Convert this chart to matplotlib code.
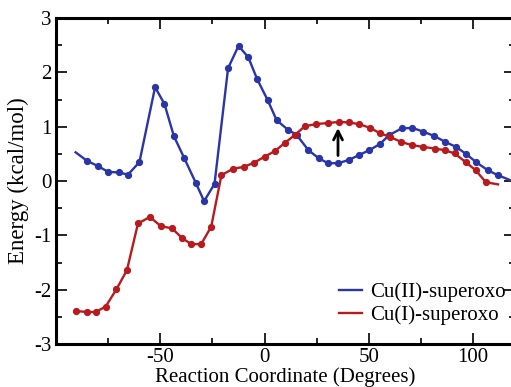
import numpy as np
import matplotlib.pyplot as plt
from matplotlib.ticker import FixedLocator

# Cu(II)-superoxo (blue)
cu2_x = [-90.6, -85, -80, -75, -70, -65.5, -60, -52.5, -48, -43.5, -38.6, -33, -29, -24,
         -17.5, -12.5, -7.8, -3.6, 1.5, 5.8, 11.1, 15.4, 21, 26, 30.4, 35.3, 40.4, 45.3,
         50.2, 55.2, 59.8, 65.7, 70.9, 76.1, 81.4, 86.7, 91.8, 96.6, 101.4, 107, 111.8, 117.6]
cu2_y = [0.53, 0.37, 0.28, 0.17, 0.16, 0.12, 0.35, 1.73, 1.42, 0.83, 0.43, -0.03, -0.37, -0.05,
         2.08, 2.49, 2.28, 1.88, 1.49, 1.12, 0.95, 0.85, 0.57, 0.42, 0.33, 0.33, 0.39, 0.48,
         0.57, 0.68, 0.85, 0.97, 0.98, 0.91, 0.83, 0.72, 0.63, 0.50, 0.35, 0.20, 0.11, 0.02]

# Cu(I)-superoxo (red)
cu1_x = [-90.6, -85.3, -81, -76.2, -71, -66, -60.7, -55, -49.7, -44.4, -39.5, -35.2, -30.4,
         -25.6, -20.7, -15, -10.1, -5, 0, 4.8, 9.6, 14.5, 19.3, 24.6, 30.4, 35.7, 40.4, 45.3,
         50.6, 55.4, 60.3, 65.6, 70.9, 76.1, 81.5, 86.3, 91.1, 96.4, 101.2, 106.1, 111.9]
cu1_y = [-2.39, -2.41, -2.41, -2.31, -1.99, -1.64, -0.78, -0.66, -0.83, -0.87, -1.05, -1.16, -1.16,
         -0.84, 0.11, 0.23, 0.26, 0.34, 0.45, 0.55, 0.70, 0.85, 1.01, 1.05, 1.07, 1.09, 1.08, 1.05,
         0.98, 0.88, 0.81, 0.72, 0.66, 0.63, 0.60, 0.57, 0.51, 0.35, 0.20, -0.02, -0.06]

x_major = [-50, 0, 50, 100]
x_minor = [-75, -25, 25, 75]

blue = '#2a35a8'
red = '#b81a1e'

plt.rcParams['font.family'] = ['Liberation Serif', 'DejaVu Serif']
plt.rcParams['font.size'] = 15
plt.rcParams['axes.unicode_minus'] = False

fig = plt.figure(figsize=(5.11, 3.87), dpi=100)
ax = fig.add_axes([0.1096, 0.111, 0.898, 0.842])

ax.plot(cu2_x, cu2_y, color=blue, lw=1.7, label='Cu(II)-superoxo')
ax.plot(cu2_x[1:-1], cu2_y[1:-1], ls='none', color=blue, marker='o', ms=4.2)
ax.plot(cu1_x, cu1_y, color=red, lw=1.7, label='Cu(I)-superoxo')
ax.plot(cu1_x[:-1], cu1_y[:-1], ls='none', color=red, marker='o', ms=4.2)

ax.annotate('', xy=(35.2, 1.03), xytext=(35.2, 0.42),
            arrowprops=dict(arrowstyle='->', color='black', lw=2, mutation_scale=16))

ax.set_xlim(-100, 120)
ax.set_ylim(-3, 3)
ax.xaxis.set_major_locator(FixedLocator(x_major))
ax.xaxis.set_minor_locator(FixedLocator(x_minor))
ax.yaxis.set_major_locator(FixedLocator([-3, -2, -1, 0, 1, 2, 3]))
ax.yaxis.set_minor_locator(FixedLocator([-2.5, -1.5, -0.5, 0.5, 1.5, 2.5]))
ax.tick_params(which='both', direction='in', top=True, right=True, width=1.2)
ax.tick_params(which='major', length=8, pad=3)
ax.tick_params(which='minor', length=4)
for s in ax.spines.values():
    s.set_linewidth(2.2)

ax.set_xlabel('Reaction Coordinate (Degrees)', labelpad=0)
ax.set_ylabel('Energy (kcal/mol)', labelpad=4, fontsize=16.5)
ax.legend(loc='lower right', bbox_to_anchor=(1.022, 0.0), frameon=False,
          handlelength=1.1, handletextpad=0.4, labelspacing=0.15,
          borderaxespad=0.5, fontsize=15)

fig.savefig('out.png', dpi=100)
